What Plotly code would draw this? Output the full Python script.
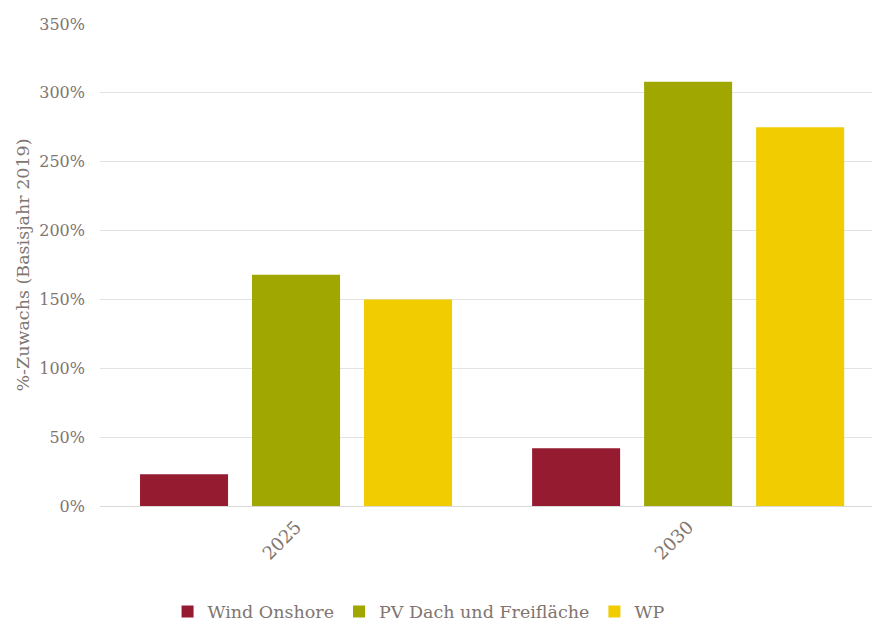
import plotly.graph_objects as go

categories = ["2025", "2030"]
series_names = ["Wind Onshore", "PV Dach und Freifläche", "WP"]
wind = [0.23, 0.42]
pv = [1.68, 3.08]
wp = [1.50, 2.75]
colors = ["#951b30", "#9fa700", "#f0cc00"]
y_ticks = [0, 0.5, 1.0, 1.5, 2.0, 2.5, 3.0, 3.5]

font_fam = "DejaVu Serif"
txt = "#80756f"

fig = go.Figure()
for name, vals, c in zip(series_names, [wind, pv, wp], colors):
    fig.add_trace(go.Bar(x=categories, y=vals, name=name, marker_color=c,
                         marker_line_width=0))

fig.update_layout(
    width=872, height=621,
    margin=dict(l=100, r=0, t=24, b=115, autoexpand=False),
    paper_bgcolor="white", plot_bgcolor="white",
    font=dict(family=font_fam, size=16, color=txt),
    barmode="group", bargap=0.143, bargroupgap=0.214,
    legend=dict(orientation="h", x=0.48, xref="container", xanchor="center",
                y=0.015, yref="container", yanchor="middle",
                font=dict(size=17.5, color=txt), itemwidth=30, traceorder="normal"),
    xaxis=dict(type="category", range=[-0.5, 1.469], tickangle=-45, automargin=False,
               showgrid=False, showline=False, ticks="", ticklabelstandoff=6,
               tickfont=dict(size=18, color=txt)),
    yaxis=dict(range=[0, 3.5], tickvals=y_ticks, tickformat=".0%", automargin=False,
               showgrid=True, gridcolor="#e3e3e3", gridwidth=1,
               zeroline=True, zerolinecolor="#d9d9d9", zerolinewidth=1,
               tickfont=dict(size=16, color=txt), ticks="", ticklabelstandoff=14,
               title=dict(text="%-Zuwachs (Basisjahr 2019)", font=dict(size=17.5, color=txt), standoff=5)),
)
fig.write_html("out.html")
